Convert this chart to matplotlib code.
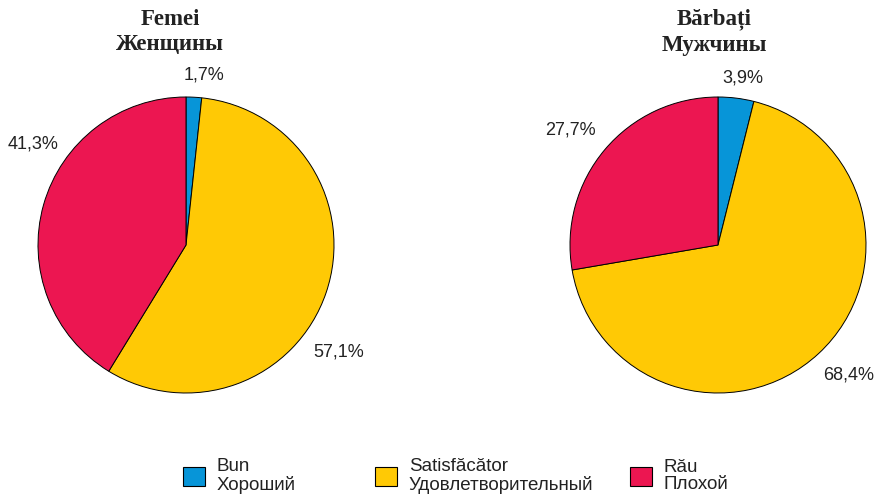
import matplotlib.pyplot as plt
from matplotlib.patches import Patch

# shares by self-rated health, clockwise from the top
categories = ["Bun\nХороший", "Satisfăcător\nУдовлетворительный", "Rău\nПлохой"]
colors = ["#0795d8", "#ffc905", "#ec1651"]

women = [1.7, 57.1, 41.3]
men = [3.9, 68.4, 27.7]
pct_labels_women = ["1,7%", "57,1%", "41,3%"]
pct_labels_men = ["3,9%", "68,4%", "27,7%"]

titles = ["Femei\nЖенщины", "Bărbați\nМужчины"]

# where the percentage texts sit, in units of the pie radius
label_pos_women = [(0.12, 1.15), (1.03, -0.72), (-1.03, 0.68)]
label_pos_men = [(0.17, 1.13), (0.88, -0.88), (-1.0, 0.78)]

plt.rcParams['font.family'] = ['Liberation Sans', 'DejaVu Sans']

fig = plt.figure(figsize=(8.79, 4.98), dpi=100)

ax_w = fig.add_axes([38 / 879, 1 - 393 / 498, 296 / 879, 296 / 498])
ax_m = fig.add_axes([570 / 879, 1 - 393 / 498, 296 / 879, 296 / 498])

for ax, vals, labs, pos, title, tx in [
    (ax_w, women, pct_labels_women, label_pos_women, titles[0], 170),
    (ax_m, men, pct_labels_men, label_pos_men, titles[1], 714),
]:
    ax.pie(vals, colors=colors, startangle=90, counterclock=False,
           wedgeprops=dict(edgecolor="black", linewidth=0.7))
    ax.set_xlim(-1, 1)
    ax.set_ylim(-1, 1)
    ax.set_aspect("equal")
    for lab, (x, y) in zip(labs, pos):
        ax.text(x, y, lab, ha="center", va="center", fontsize=13, color="#222222",
                clip_on=False)
    fig.text(tx / 879, 1 - 32 / 498, title, ha="center", va="center",
             fontsize=16.5, fontweight="bold", family="Liberation Serif",
             color="#222222", linespacing=1.3)

# legend entries placed individually, like the original layout
legend_x = [183, 375, 630]
for cat, col, lx in zip(categories, colors, legend_x):
    h = Patch(facecolor=col, edgecolor="black", linewidth=0.8)
    leg = fig.legend([h], [cat], loc="center left",
                     bbox_to_anchor=(lx / 879, 1 - 476 / 498),
                     frameon=False, fontsize=13.5, handlelength=1.2,
                     handleheight=1.2, handletextpad=0.6, borderpad=0,
                     borderaxespad=0)
    for t in leg.get_texts():
        t.set_color("#222222")
        t.set_linespacing(1.05)

fig.savefig("out.png", dpi=100)
